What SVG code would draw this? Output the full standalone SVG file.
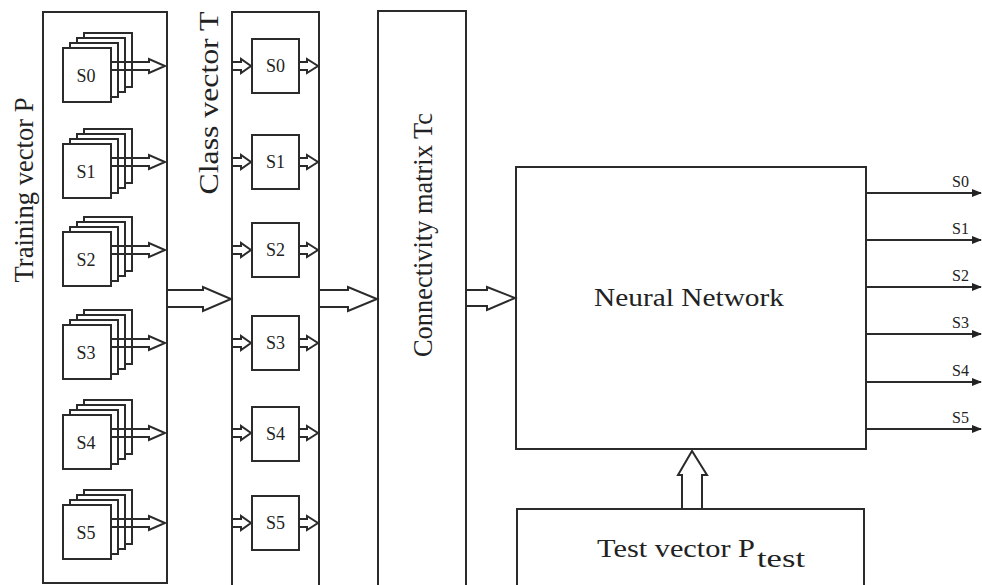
<svg xmlns="http://www.w3.org/2000/svg" width="982" height="585" viewBox="0 0 982 585">
<style>
.box{fill:#fff;stroke:#2b2b2b;stroke-width:2}
.ln{fill:none;stroke:#2b2b2b;stroke-width:2}
.t{font-family:"Liberation Serif","Times New Roman",serif;fill:#222}
.s{font-size:18px;text-anchor:middle}
.lab{font-size:27px;text-anchor:middle}
.o{font-size:16px;text-anchor:end}
</style>
<defs>
<marker id="ah" markerWidth="10" markerHeight="8" refX="9" refY="4" orient="auto" markerUnits="userSpaceOnUse">
<path d="M0,0 L10,4 L0,8 Z" fill="#222"/>
</marker>
<g id="stackShape">
<rect class="box" x="21" y="-15" width="48" height="54"/>
<rect class="box" x="14" y="-10" width="48" height="54"/>
<rect class="box" x="7" y="-5" width="48" height="54"/>
<rect class="box" x="0" y="0" width="48" height="54"/>
<path class="ln" d="M48,14 H86 V11 L102,18 L86,25 V22 H48"/>
</g>
</defs>

<g id="training">
<rect class="box" x="43" y="12" width="124" height="571"/>
<text class="t lab" transform="translate(33,190) rotate(-90)" textLength="185" lengthAdjust="spacingAndGlyphs">Training vector P</text>
<g id="tS0"><use href="#stackShape" x="63" y="48"/><text class="t s" x="86" y="82">S0</text></g>
<g id="tS1"><use href="#stackShape" x="63" y="144"/><text class="t s" x="86" y="178">S1</text></g>
<g id="tS2"><use href="#stackShape" x="63" y="232"/><text class="t s" x="86" y="266">S2</text></g>
<g id="tS3"><use href="#stackShape" x="63" y="325"/><text class="t s" x="86" y="359">S3</text></g>
<g id="tS4"><use href="#stackShape" x="63" y="415"/><text class="t s" x="86" y="449">S4</text></g>
<g id="tS5"><use href="#stackShape" x="63" y="505"/><text class="t s" x="86" y="539">S5</text></g>
</g>

<g id="classT">
<path class="box" d="M232,590 V12 H319 V590"/>
<text class="t lab" transform="translate(218,103) rotate(-90)" textLength="183" lengthAdjust="spacingAndGlyphs">Class vector T</text>
<g id="cS0"><rect class="box" x="252" y="39" width="47" height="54"/><text class="t s" x="275.5" y="72">S0</text></g>
<g id="cS1"><rect class="box" x="252" y="135" width="47" height="54"/><text class="t s" x="275.5" y="168">S1</text></g>
<g id="cS2"><rect class="box" x="252" y="223" width="47" height="54"/><text class="t s" x="275.5" y="256">S2</text></g>
<g id="cS3"><rect class="box" x="252" y="316" width="47" height="54"/><text class="t s" x="275.5" y="349">S3</text></g>
<g id="cS4"><rect class="box" x="252" y="407" width="47" height="54"/><text class="t s" x="275.5" y="440">S4</text></g>
<g id="cS5"><rect class="box" x="252" y="496" width="47" height="54"/><text class="t s" x="275.5" y="529">S5</text></g>
</g>

<g id="connectivity">
<path class="box" d="M378,590 V11 H466 V590"/>
<text class="t lab" transform="translate(432,235) rotate(-90)" textLength="244" lengthAdjust="spacingAndGlyphs">Connectivity matrix  Tc</text>
</g>

<g id="neural">
<rect class="box" x="516" y="167" width="350" height="282"/>
<text class="t" x="594" y="306" font-size="25" textLength="190" lengthAdjust="spacingAndGlyphs">Neural Network</text>
</g>

<g id="test">
<path class="box" d="M517,590 V509 H864 V590"/>
<text class="t" x="597" y="557" font-size="26"><tspan textLength="158" lengthAdjust="spacingAndGlyphs">Test vector  P</tspan><tspan x="757" y="567" textLength="48" lengthAdjust="spacingAndGlyphs">test</tspan></text>
</g>

<g id="connectors">
<g id="cin">
<path class="ln" d="M232,62 H241 V59 L251,66 L241,73 V70 H232"/>
<path class="ln" d="M232,158 H241 V155 L251,162 L241,169 V166 H232"/>
<path class="ln" d="M232,246 H241 V243 L251,250 L241,257 V254 H232"/>
<path class="ln" d="M232,339 H241 V336 L251,343 L241,350 V347 H232"/>
<path class="ln" d="M232,429 H241 V426 L251,433 L241,440 V437 H232"/>
<path class="ln" d="M232,519 H241 V516 L251,523 L241,530 V527 H232"/>
</g>
<g id="cout">
<path class="ln" d="M299,62 H307 V59 L318,66 L307,73 V70 H299"/>
<path class="ln" d="M299,158 H307 V155 L318,162 L307,169 V166 H299"/>
<path class="ln" d="M299,246 H307 V243 L318,250 L307,257 V254 H299"/>
<path class="ln" d="M299,339 H307 V336 L318,343 L307,350 V347 H299"/>
<path class="ln" d="M299,429 H307 V426 L318,433 L307,440 V437 H299"/>
<path class="ln" d="M299,519 H307 V516 L318,523 L307,530 V527 H299"/>
</g>
<path class="ln" d="M167,290 H203 V287 L231,299 L203,311 V307 H167"/>
<path class="ln" d="M319,290 H348 V287 L377,299 L348,311 V307 H319"/>
<path class="ln" d="M466,290 H487 V287 L515,298 L487,310 V306 H466"/>
<path class="ln" d="M682,509 V475 H678 L692,451 L707,475 H702 V509"/>
<g id="outs">
<line class="ln" x1="866" y1="193" x2="981" y2="193" marker-end="url(#ah)"/>
<line class="ln" x1="866" y1="240" x2="981" y2="240" marker-end="url(#ah)"/>
<line class="ln" x1="866" y1="287" x2="981" y2="287" marker-end="url(#ah)"/>
<line class="ln" x1="866" y1="334" x2="981" y2="334" marker-end="url(#ah)"/>
<line class="ln" x1="866" y1="382" x2="981" y2="382" marker-end="url(#ah)"/>
<line class="ln" x1="866" y1="429" x2="981" y2="429" marker-end="url(#ah)"/>
</g>
</g>
<g id="outlabels">
<text class="t o" x="969" y="187">S0</text>
<text class="t o" x="969" y="234">S1</text>
<text class="t o" x="969" y="281">S2</text>
<text class="t o" x="969" y="328">S3</text>
<text class="t o" x="969" y="376">S4</text>
<text class="t o" x="969" y="423">S5</text>
</g>
</svg>
